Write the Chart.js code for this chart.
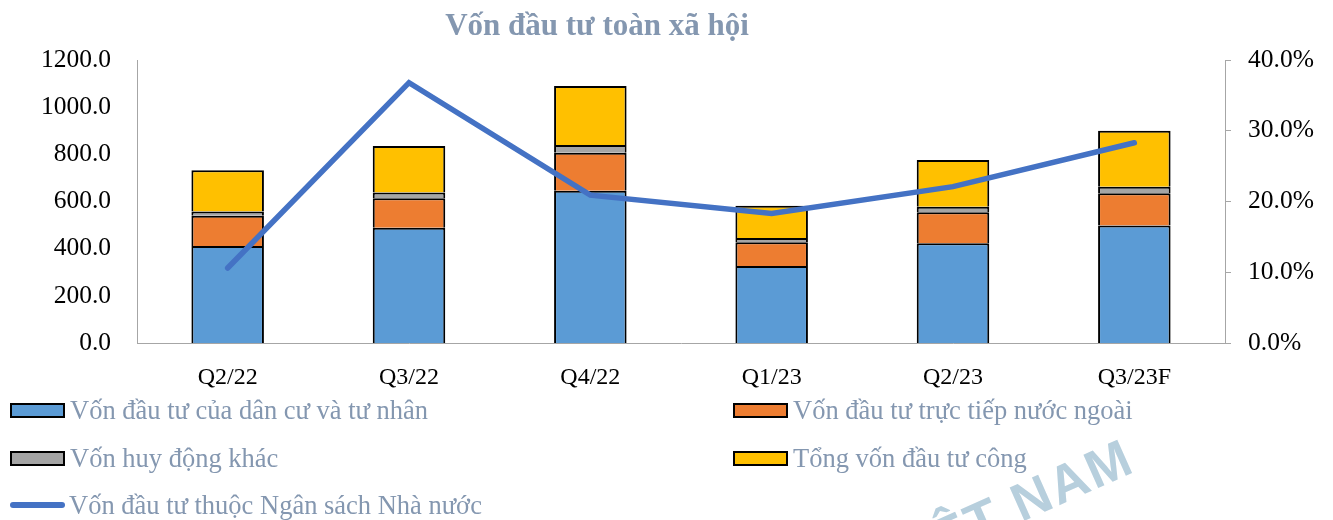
<!DOCTYPE html>
<html>
<head>
<meta charset="utf-8">
<script src="https://cdn.jsdelivr.net/npm/chart.js@4.4.0/dist/chart.umd.min.js"></script>
<style>
  body { margin: 0; background: #fff; }
  #wrap { position: relative; width: 1333px; height: 520px; overflow: hidden; }
  #title { position: absolute; left: 0; top: 7px; width: 1194px; text-align: center;
           font: bold 31px 'Liberation Serif', serif; color: #8497B0; }
  .item { position: absolute; display: flex; align-items: center; height: 30px;
          font: 26.5px 'Liberation Serif', serif; color: #8497B0; white-space: nowrap; }
  .swatch { width: 51px; height: 11px; border: 2px solid #000; margin-right: 5px; }
  .lineSwatch { width: 55px; height: 6px; border-radius: 3px; margin-right: 4px; }
  #mark { position: absolute; left: 872px; top: 478px; transform: rotate(-24deg);
          font: bold 53px 'Liberation Sans', sans-serif; color: #B7CFDD; letter-spacing: 2px; }
</style>
</head>
<body>
<div id="wrap">
  <canvas id="chart" width="1333" height="520"></canvas>
  <div id="title">Vốn đầu tư toàn xã hội</div>
  <div id="mark">VIỆT NAM</div>
  <div id="legend"></div>
</div>
<script>
//Chart data
const categories = ['Q2/22', 'Q3/22', 'Q4/22', 'Q1/23', 'Q2/23', 'Q3/23F'];
const privateCapital = [411, 489, 646, 327, 423, 498];
const fdiCapital = [129, 125, 161, 100, 131, 137];
const otherCapital = [18, 24, 33, 18, 24, 28];
const publicCapital = [175, 197, 250, 137, 198, 237];
const stateBudgetShare = [10.6, 36.8, 20.9, 18.3, 22.1, 28.3];

const leftTicks = [0, 200, 400, 600, 800, 1000, 1200];
const rightTicks = [0, 10, 20, 30, 40];

const xFont = { family: 'Liberation Serif', size: 24 };
const yFont = { family: 'Liberation Serif', size: 25.5 };
const axisGray = '#A6A6A6';

function barSet(label, data, color) {
  return {
    label: label,
    data: data,
    backgroundColor: color,
    borderColor: '#000',
    borderWidth: 2,
    barPercentage: 0.5,
    categoryPercentage: 0.8,
    yAxisID: 'y',
    order: 1
  };
}

let chart = new Chart(document.getElementById('chart').getContext('2d'), {
  type: 'bar',
  data: {
    labels: categories,
    datasets: [
      barSet('Vốn đầu tư của dân cư và tư nhân', privateCapital, '#5B9BD5'),
      barSet('Vốn đầu tư trực tiếp nước ngoài', fdiCapital, '#ED7D31'),
      barSet('Vốn huy động khác', otherCapital, '#A5A5A5'),
      barSet('Tổng vốn đầu tư công', publicCapital, '#FFC000'),
      {
        type: 'line',
        label: 'Vốn đầu tư thuộc Ngân sách Nhà nước',
        data: stateBudgetShare,
        borderColor: '#4472C4',
        backgroundColor: '#4472C4',
        borderWidth: 5.5,
        borderCapStyle: 'round',
        pointRadius: 0,
        tension: 0,
        yAxisID: 'y1',
        order: 0
      }
    ]
  },
  options: {
    responsive: false,
    animation: false,
    layout: { padding: { top: 60, bottom: 127, left: 0, right: 0 } },
    plugins: {
      legend: { display: false },
      tooltip: { enabled: false },
      title: { display: false }
    },
    scales: {
      x: {
        stacked: true,
        grid: { display: false },
        border: { color: axisGray, width: 1 },
        ticks: { font: xFont, color: '#000', padding: 12 },
        afterFit: function(s) { s.height = 50; }
      },
      y: {
        stacked: true,
        min: 0,
        max: 1200,
        grid: { display: false },
        border: { color: axisGray, width: 1 },
        afterBuildTicks: function(s) { s.ticks = leftTicks.map(v => ({ value: v })); },
        ticks: { font: yFont, color: '#000', padding: 18, callback: v => v.toFixed(1) },
        afterFit: function(s) { s.width = 137; }
      },
      y1: {
        position: 'right',
        min: 0,
        max: 40,
        grid: { drawOnChartArea: false, color: axisGray, tickLength: 6 },
        border: { color: axisGray, width: 1 },
        afterBuildTicks: function(s) { s.ticks = rightTicks.map(v => ({ value: v })); },
        ticks: { font: yFont, color: '#000', padding: 17, callback: v => v.toFixed(1) + '%' },
        afterFit: function(s) { s.width = 108; }
      }
    }
  }
});

//Builds the legend below the chart in two columns, in dataset order
const legendItems = Chart.defaults.plugins.legend.labels.generateLabels(chart)
  .sort((a, b) => a.datasetIndex - b.datasetIndex);
const colLeft = [10, 733];
const rowTop = [395, 443, 490];
legendItems.forEach(function(item, i) {
  const ds = chart.data.datasets[item.datasetIndex];
  const div = document.createElement('div');
  div.className = 'item';
  div.style.left = colLeft[i % 2] + 'px';
  div.style.top = rowTop[Math.floor(i / 2)] + 'px';
  const sw = document.createElement('span');
  sw.className = ds.type === 'line' ? 'lineSwatch' : 'swatch';
  sw.style.background = item.fillStyle;
  div.appendChild(sw);
  div.appendChild(document.createTextNode(item.text));
  document.getElementById('legend').appendChild(div);
});
</script>
</body>
</html>
